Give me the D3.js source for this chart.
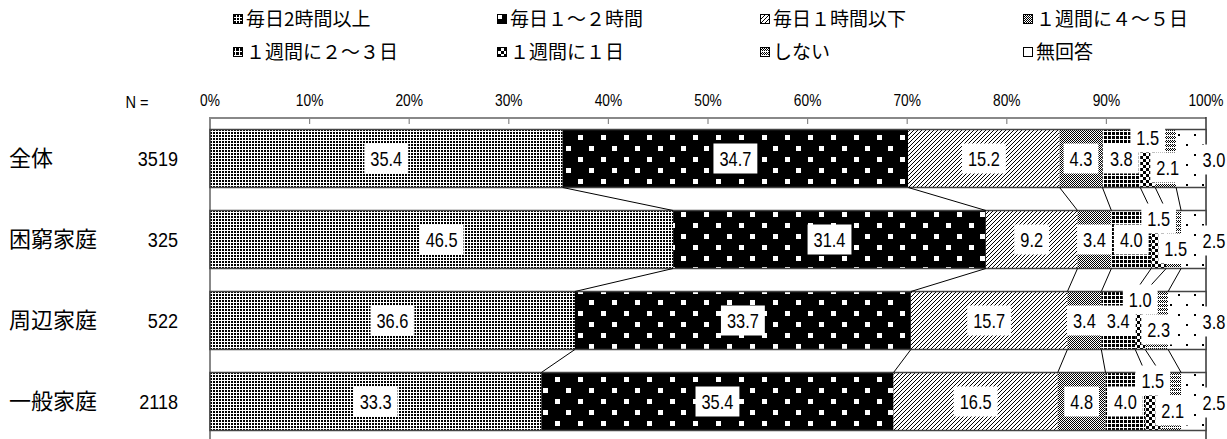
<!DOCTYPE html>
<html><head><meta charset="utf-8">
<script src="https://cdn.jsdelivr.net/npm/d3@7"></script>
<style>body{margin:0;background:#fff;} svg{display:block;}</style>
</head><body>
<svg id="c" width="1227" height="439"></svg>
<script>
const categories = ["全体", "困窮家庭", "周辺家庭", "一般家庭"];
const nValues = [3519, 325, 522, 2118];
const seriesNames = ["毎日2時間以上", "毎日１～２時間", "毎日１時間以下", "１週間に４～５日", "１週間に２～３日", "１週間に１日", "しない", "無回答"];
const sDaily2Plus = [35.4, 46.5, 36.6, 33.3];
const sDaily1to2 = [34.7, 31.4, 33.7, 35.4];
const sDaily1Less = [15.2, 9.2, 15.7, 16.5];
const sWeek4to5 = [4.3, 3.4, 3.4, 4.8];
const sWeek2to3 = [3.8, 4.0, 3.4, 4.0];
const sWeek1 = [1.5, 1.5, 1.0, 1.5];
const sNone = [2.1, 1.5, 2.3, 2.1];
const sNoAnswer = [3.0, 2.5, 3.8, 2.5];
const tickValues = [0, 10, 20, 30, 40, 50, 60, 70, 80, 90, 100];
const tickLabels = ["0%", "10%", "20%", "30%", "40%", "50%", "60%", "70%", "80%", "90%", "100%"];

const seriesValues = [sDaily2Plus, sDaily1to2, sDaily1Less, sWeek4to5, sWeek2to3, sWeek1, sNone, sNoAnswer];

const svg = d3.select("#c");
const CJK = "'Noto Sans CJK JP', 'Noto Sans', sans-serif";
const NUM = "'Liberation Sans', Arial, sans-serif";

// ---------- patterns ----------
const defs = svg.append("defs");
function pat(id, w, h, build) {
  const p = defs.append("pattern").attr("id", id).attr("patternUnits", "userSpaceOnUse")
    .attr("width", w).attr("height", h);
  build(p);
}
function r(p, x, y, w, h, c) { p.append("rect").attr("x", x).attr("y", y).attr("width", w).attr("height", h).attr("fill", c).attr("shape-rendering", "crispEdges"); }
pat("p0", 3, 3, p => { r(p, 0, 0, 3, 3, "#fff"); r(p, 0, 0, 2, 2, "#000"); });
pat("p1", 23, 22, p => { r(p, 0, 0, 23, 22, "#000"); r(p, 3, 3, 5, 5, "#fff"); r(p, 14, 14, 5, 5, "#fff"); });
pat("p2", 4, 4, p => { r(p, 0, 0, 4, 4, "#fff");
  p.append("path").attr("d", "M-1,1 l2,-2 M0,4 l4,-4 M3,5 l2,-2").attr("stroke", "#000").attr("stroke-width", 1); });
pat("p3", 2, 2, p => { r(p, 0, 0, 2, 2, "#fff"); r(p, 0, 0, 1, 1, "#000"); r(p, 1, 1, 1, 1, "#000"); });
pat("p4", 4, 4, p => { r(p, 0, 0, 4, 4, "#fff"); r(p, 0, 0, 3, 3, "#000"); });
pat("p5", 6, 6, p => { r(p, 0, 0, 6, 6, "#fff"); r(p, 0, 0, 3, 3, "#000"); r(p, 3, 3, 3, 3, "#000"); });
pat("p6", 4, 4, p => { r(p, 0, 0, 4, 4, "#fff"); r(p, 0, 0, 1, 1, "#000"); r(p, 2, 0, 1, 1, "#000"); r(p, 1, 1, 1, 1, "#000"); r(p, 3, 1, 1, 1, "#000"); r(p, 0, 2, 1, 1, "#000"); r(p, 2, 2, 1, 1, "#000"); });
pat("p7", 16, 20, p => { r(p, 0, 0, 16, 20, "#fff"); r(p, 2, 4, 2, 2, "#000"); r(p, 10, 14, 2, 2, "#000"); });

// ---------- scales ----------
const x = d3.scaleLinear().domain([0, 100]).range([210, 1206]);
const y = d3.scaleBand().domain(categories).range([118, 442]).paddingInner(0.284).paddingOuter(0.142);

// ---------- data stacking (100% normalized) ----------
const table = categories.map((c, i) => {
  const o = { cat: c };
  seriesNames.forEach((s, j) => o[s] = seriesValues[j][i]);
  return o;
});
const stack = d3.stack().keys(seriesNames).offset(d3.stackOffsetExpand);
const stacked = stack(table);

// ---------- frame ----------
const frame = svg.append("g");
frame.append("line").attr("x1", x(0)).attr("x2", x(100)).attr("y1", 118).attr("y2", 118).attr("stroke", "#888").attr("stroke-width", 2);
frame.append("line").attr("x1", x(0)).attr("x2", x(0)).attr("y1", 117).attr("y2", 439).attr("stroke", "#888").attr("stroke-width", 2);
frame.append("line").attr("x1", x(100)).attr("x2", x(100)).attr("y1", 117).attr("y2", 439).attr("stroke", "#333").attr("stroke-width", 1.5);
tickValues.slice(1, -1).forEach(t => {
  frame.append("line").attr("x1", x(t)).attr("x2", x(t)).attr("y1", 118).attr("y2", 124).attr("stroke", "#888").attr("stroke-width", 1.2);
});

function numText(g, tx, ty, txt, size, sx, anchor) {
  return g.append("text").attr("transform", `translate(${tx},${ty}) scale(${sx},1)`)
    .attr("text-anchor", anchor).attr("dy", "0.35em")
    .attr("font-family", NUM).attr("font-size", size).attr("fill", "#000").text(txt);
}
tickValues.forEach((t, i) => numText(svg, x(t), 100, tickLabels[i], 16, 0.86, "middle"));
numText(svg, 137, 102, "N =", 17, 0.86, "middle");

// ---------- bars ----------
const barsG = svg.append("g");
stacked.forEach((ser, j) => {
  barsG.selectAll(null).data(ser).enter().append("rect")
    .attr("x", d => x(d[0] * 100)).attr("width", d => x(d[1] * 100) - x(d[0] * 100))
    .attr("y", d => y(d.data.cat)).attr("height", y.bandwidth())
    .attr("fill", `url(#p${j})`);
});
// bar outlines
barsG.selectAll(null).data(categories).enter().append("rect")
  .attr("x", x(0)).attr("width", x(100) - x(0)).attr("y", d => y(d)).attr("height", y.bandwidth())
  .attr("fill", "none").attr("stroke", "#444").attr("stroke-width", 1.5);

// connector lines
const connG = svg.append("g");
for (let i = 0; i < categories.length - 1; i++) {
  for (let j = 0; j < seriesNames.length - 1; j++) {
    const a = stacked[j][i][1] * 100, b = stacked[j][i + 1][1] * 100;
    connG.append("line").attr("x1", x(a)).attr("y1", y(categories[i]) + y.bandwidth())
      .attr("x2", x(b)).attr("y2", y(categories[i + 1])).attr("stroke", "#000").attr("stroke-width", 1);
  }
}

// ---------- data labels ----------
const labG = svg.append("g");
const fmt = d3.format(".1f");
stacked.forEach((ser, j) => {
  ser.forEach((d, i) => {
    const top = y(d.data.cat), mid = top + y.bandwidth() / 2;
    let cx = (x(d[0] * 100) + x(d[1] * 100)) / 2, cy = mid;
    if (j === 5) { cy = top + 8; }
    if (j === 6) { cy = mid + 9; cx += 2; }
    if (j === 7) { cx = x(100) + 8; cy = mid + 1; }
    const g = labG.append("g");
    const bx = g.append("rect").attr("fill", "#fff");
    const t = numText(g, cx, cy, fmt(seriesValues[j][i]), 20, 0.82, "middle");
    const w = t.node().getComputedTextLength() * 0.82;
    bx.attr("x", cx - w / 2 - 6).attr("width", w + 12).attr("y", cy - 15).attr("height", 30);
  });
});

// ---------- row labels ----------
categories.forEach((c, i) => {
  const mid = y(c) + y.bandwidth() / 2;
  svg.append("text").attr("x", 9).attr("y", mid).attr("dy", "0.35em")
    .attr("font-family", CJK).attr("font-size", 22).text(c);
  numText(svg, 178, mid, String(nValues[i]), 21, 0.86, "end");
});

// ---------- legend ----------
const legX = [233, 497, 760, 1023];
const legY = [19, 52];
seriesNames.forEach((s, j) => {
  const lx = legX[j % 4], ly = legY[Math.floor(j / 4)];
  svg.append("rect").attr("x", lx).attr("y", ly - 5).attr("width", 9).attr("height", 9)
    .attr("fill", `url(#p${j})`).attr("stroke", "#000").attr("stroke-width", 1).attr("shape-rendering", "crispEdges");
  svg.append("text").attr("x", lx + 13).attr("y", ly).attr("dy", "0.35em")
    .attr("font-family", CJK).attr("font-size", 19).text(s);
});
</script>
</body></html>
